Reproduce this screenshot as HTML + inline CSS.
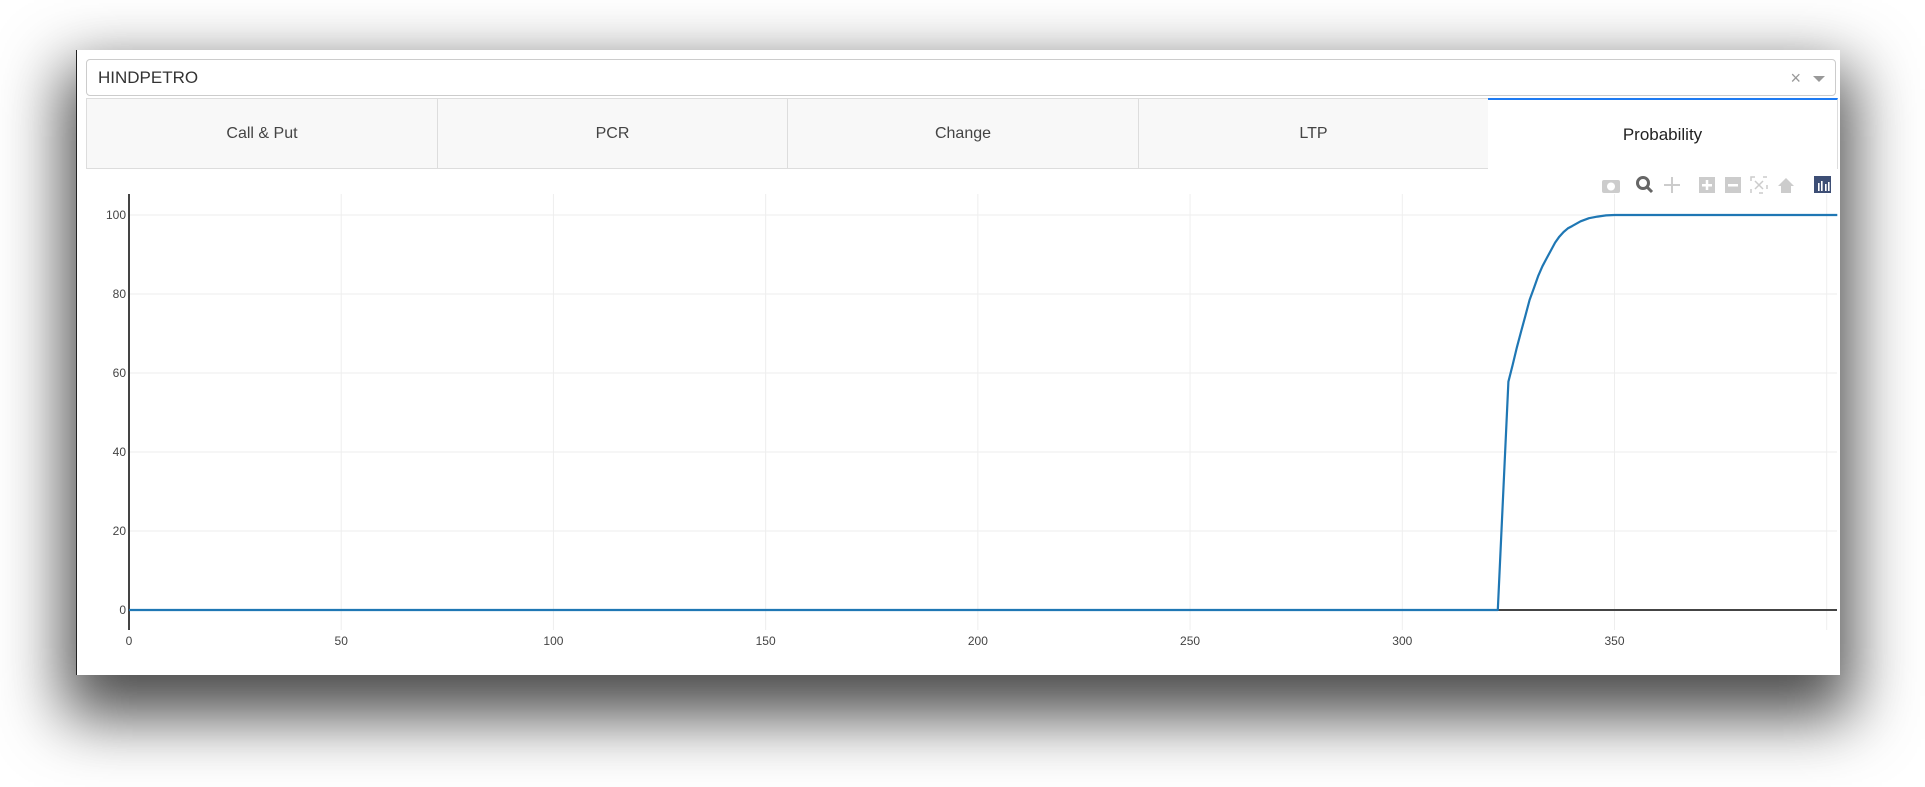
<!DOCTYPE html>
<html><head><meta charset="utf-8">
<style>
html,body{margin:0;padding:0;background:#fff;width:1925px;height:787px;overflow:hidden;font-family:"Liberation Sans",sans-serif;}
#panel{position:absolute;left:76px;top:50px;width:1763px;height:625px;background:#fff;box-shadow:0 30px 60px 12px rgba(0,0,0,0.7);border-left:1px solid #222;}
#select{position:absolute;left:9px;top:9px;width:1750px;height:37px;border:1px solid #ccc;border-radius:4px;box-sizing:border-box;font-size:17px;color:#333;line-height:36px;padding-left:11px;}
#clear{position:absolute;right:34px;top:0;color:#999;font-size:18px;}
#arrow{position:absolute;right:10px;top:16px;width:0;height:0;border-left:6px solid transparent;border-right:6px solid transparent;border-top:6px solid #999;}
.tab{position:absolute;top:48px;height:71px;box-sizing:border-box;background:#f8f8f8;border:1px solid #ddd;text-align:center;line-height:70px;font-size:16px;color:#444;}
.tab.active{background:#fff;border:none;border-top:2px solid #1e7bf3;border-right:1px solid #ddd;color:#222;font-size:17px;}
</style></head><body>
<div id="panel">
  <div id="select">HINDPETRO
    <span id="clear">×</span>
    <span id="arrow"></span>
  </div>
  <div class="tab" style="left:9px;width:352px">Call &amp; Put</div>
  <div class="tab" style="left:360px;width:351px">PCR</div>
  <div class="tab" style="left:710px;width:352px">Change</div>
  <div class="tab" style="left:1061px;width:351px">LTP</div>
  <div class="tab active" style="left:1411px;width:350px">Probability</div>
</div>
<svg id="chart" width="1925" height="787" style="position:absolute;left:0;top:0"></svg>
<script>
const xVals=[0,322.5,325,326,327,328,329,330,331,332,333,334,335,336,337,338,339,340,342,344,346,348,350,402.5];
const yVals=[0,0,57.8,62,66.5,70.5,74.5,78.5,81.5,84.5,87,89,91,93,94.5,95.7,96.6,97.2,98.4,99.2,99.6,99.9,100,100];
const xTicks=[0,50,100,150,200,250,300,350];
const xGrid=[50,100,150,200,250,300,350,400];
const yTicks=[0,20,40,60,80,100];
const NS='http://www.w3.org/2000/svg';
const svg=document.getElementById('chart');
const X0=129,XS=4.2443,Y0=610,YS=3.95,XR=1837,YT=194;
const sx=v=>X0+v*XS, sy=v=>Y0-v*YS;
function mk(t,a){const e=document.createElementNS(NS,t);for(const k in a)e.setAttribute(k,a[k]);svg.appendChild(e);return e;}
xGrid.forEach(t=>{
 const g=mk('line',{x1:sx(t),x2:sx(t),y1:YT,y2:Y0+20,stroke:'#eee','stroke-width':1});
 
 });
yTicks.forEach(t=>{if(t===0)return;
 const g=mk('line',{x1:X0,x2:XR,y1:sy(t),y2:sy(t),stroke:'#eee','stroke-width':1});
 
 });
xTicks.forEach(t=>{const e=mk('text',{x:sx(t),y:645,'text-anchor':'middle','font-size':12,fill:'#444','font-family':'Liberation Sans, sans-serif'});e.textContent=t;
 
 });
yTicks.forEach(t=>{const e=mk('text',{x:126,y:sy(t)+4,'text-anchor':'end','font-size':12,fill:'#444','font-family':'Liberation Sans, sans-serif'});e.textContent=t;
 
 });
const xa=mk('line',{x1:X0,x2:XR,y1:Y0,y2:Y0,stroke:'#444','stroke-width':2});


const ya=mk('line',{x1:X0,x2:X0,y1:YT,y2:Y0+20,stroke:'#444','stroke-width':2});


const pts=xVals.map((x,i)=>sx(x).toFixed(1)+','+sy(yVals[i]).toFixed(1)).join(' ');
const line=mk('polyline',{points:pts,fill:'none',stroke:'#1f77b4','stroke-width':2.2,'stroke-linejoin':'round'});


const icons=[[1611,'camera','#ccc'],[1645,'zoom','#666'],[1672,'pan','#ccc'],[1707,'zoom-in','#ccc'],[1733,'zoom-out','#ccc'],[1759,'autoscale','#ccc'],[1786,'reset','#ccc']];
icons.forEach(([x,n,c])=>{const r=mk('rect',{x:x-8,y:177,width:16,height:16,fill:'none'});
 
 
 if(n==='zoom-in'||n==='zoom-out'){mk('rect',{x:x-8,y:177,width:16,height:16,fill:c});mk('rect',{x:x-5,y:184,width:10,height:2.5,fill:'#fff'});if(n==='zoom-in')mk('rect',{x:x-1.25,y:180,width:2.5,height:10,fill:'#fff'});}
 else if(n==='zoom'){mk('circle',{cx:x-2,cy:183,r:5.5,fill:'none',stroke:c,'stroke-width':3});mk('line',{x1:x+2,y1:187,x2:x+7,y2:192,stroke:c,'stroke-width':3});}
 else if(n==='camera'){mk('rect',{x:x-9,y:180,width:18,height:13,rx:2,fill:c});mk('circle',{cx:x,cy:186.5,r:4,fill:'#fff'});}
 else if(n==='pan'){mk('path',{d:`M${x-8} 185H${x+8}M${x} 177V193`,stroke:c,'stroke-width':2});}
 else if(n==='autoscale'){mk('rect',{x:x-8,y:177,width:16,height:16,fill:'none',stroke:c,'stroke-width':1.5,'stroke-dasharray':'4 8'});mk('path',{d:`M${x-4} 181L${x+4} 189M${x+4} 181L${x-4} 189`,stroke:c,'stroke-width':1.5});}
 else {mk('path',{d:`M${x-8} 186L${x} 178L${x+8} 186H${x+5}V193H${x-5}V186Z`,fill:c});}
});
const lg=mk('rect',{x:1814,y:176,width:17,height:17,fill:'#3d4e75'});


[1818,1821,1825,1828].forEach((x,i)=>mk('rect',{x:x,y:[183,181,184,182][i],width:1.6,height:[8,10,7,9][i],fill:'#fff'}));
</script>
</body></html>
